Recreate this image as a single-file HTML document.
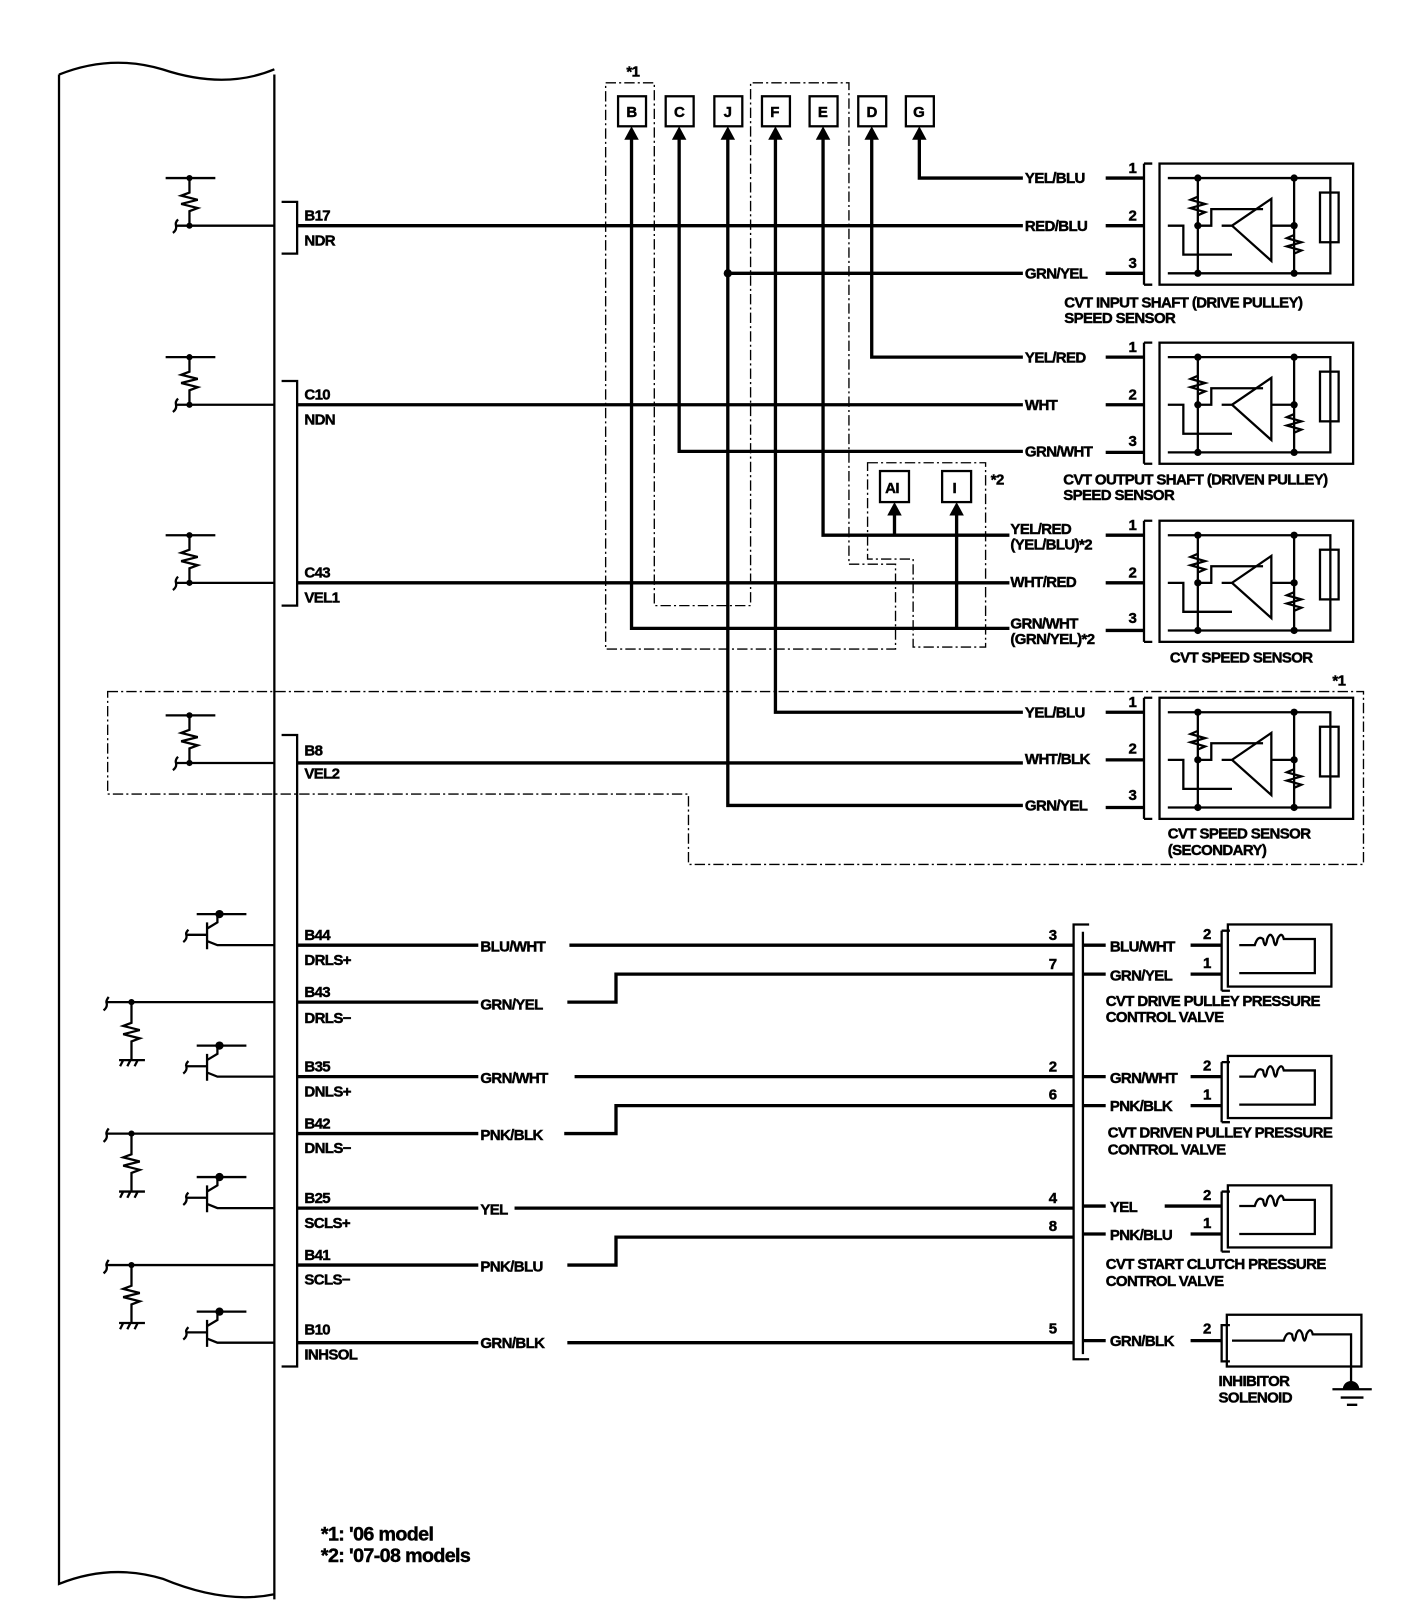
<!DOCTYPE html>
<html><head><meta charset="utf-8"><style>
html,body{margin:0;padding:0;background:#fff;}
svg{display:block;}
text{font-family:"Liberation Sans",sans-serif;font-weight:bold;font-size:14.5px;fill:#000;stroke:#000;stroke-width:0.45px;letter-spacing:-0.6px;}
.w{stroke:#000;stroke-width:3.2;fill:none;}
.t{stroke:#000;stroke-width:2.2;fill:none;}
.d{stroke:#000;stroke-width:1.3;fill:none;stroke-dasharray:10,3,2,3;}
</style></head><body>
<svg width="1408" height="1616" viewBox="0 0 1360 1561" preserveAspectRatio="none" xmlns="http://www.w3.org/2000/svg">
<defs>
<g id="ecm">
 <path class="t" d="M160 -46H208 M183 -46V-32 l-8 3 l16 4 l-16 4 l16 4 l-8 3 V0 M183 0H265"/>
 <circle cx="183" cy="-46" r="3"/><circle cx="183" cy="0" r="3"/>
 <path class="t" d="M172 -6 q-3 3 -2 6 q1 4 -3 7 M170 0H183"/>
</g>
<g id="sens">
 <path class="t" d="M1105 -14V103 M1105 -14H1113 M1105 103H1113"/>
 <rect class="t" x="1120" y="-14" width="187" height="117"/>
 <path class="t" d="M1128 0H1285V80 M1128 92H1285V80 M1157 0V92 M1250 0V92 M1128 46H1143V74H1190 M1157 46H1170V30H1220"/>
 <path class="t" d="M1157 18 l-7 3 l14 4 l-14 4 l14 4 l-7 3 M1250 55 l-7 3 l14 4 l-14 4 l14 4 l-7 3"/>
 <path class="t" d="M1228 20 L1190 46 L1228 80 Z M1190 46H1180 M1228 46H1250"/>
 <rect class="t" x="1275" y="14" width="18" height="48" fill="#fff"/>
 <circle cx="1157" cy="0" r="3.5"/><circle cx="1250" cy="0" r="3.5"/><circle cx="1157" cy="92" r="3.5"/><circle cx="1250" cy="92" r="3.5"/><circle cx="1157" cy="46" r="3.5"/><circle cx="1250" cy="46" r="3.5"/>
 <path class="w" d="M1068 0H1105 M1068 46H1105 M1068 92H1105"/>
</g>
<g id="tr">
 <path class="t" d="M200 -22V4 M180 -10H200 M200 -4 L210 0 H265 M200 -16 L210 -22 V-30 M190 -30H238"/>
 <path class="t" d="M182 -15 q-3 3 -2 5 q1 4 -3 7"/>
 <circle cx="212" cy="-30" r="4"/>
</g>
<g id="rg">
 <path class="t" d="M103 0H265 M127 0V20 l-8 3 l16 4 l-16 4 l16 4 l-8 3 V56 M115 56H140 M119 56l-3 6 M126 56l-3 6 M133 56l-3 6 M105 -5 q-3 4 -2 6 q1 4 -3 7"/>
 <circle cx="127" cy="0" r="3"/>
</g>
<g id="valve">
 <path class="t" d="M1180 -14V44 M1180 -14H1188 M1180 44H1188"/>
 <rect class="t" x="1186" y="-20" width="100" height="60"/>
 <path class="t" d="M1197 0H1212 q3 -10 8 -6 q2 12 4 0 q3 -8 6 0 q2 12 4 0 q4 -8 6 0 H1270V27H1197"/>
</g>
</defs>

<path class="t" d="M57 72 q50 -20 100 -5 q60 20 108 0 M57 72V1530 q50 -20 100 -5 q60 25 108 15 M265 72V1545"/>
<path class="t" d="M272 195H287V245H272 M272 368H287V585H272 M272 710H287V1320H272"/>

<use href="#ecm" transform="translate(0,218)"/>
<use href="#ecm" transform="translate(0,391)"/>
<use href="#ecm" transform="translate(0,563)"/>
<use href="#ecm" transform="translate(0,737)"/>

<text x="294" y="213">B17</text><text x="294" y="237">NDR</text>
<text x="294" y="386">C10</text><text x="294" y="410">NDN</text>
<text x="294" y="558">C43</text><text x="294" y="582">VEL1</text>
<text x="294" y="730">B8</text><text x="294" y="752">VEL2</text>

<path class="w" d="M287 218H988 M287 391H988 M287 563H975 M287 737H988"/>

<g class="t">
<rect x="597" y="93" width="27" height="29"/><rect x="643" y="93" width="27" height="29"/><rect x="690" y="93" width="27" height="29"/>
<rect x="736" y="93" width="27" height="29"/><rect x="782" y="93" width="27" height="29"/><rect x="829" y="93" width="27" height="29"/><rect x="875" y="93" width="27" height="29"/>
<rect x="850" y="455" width="28" height="30"/><rect x="910" y="455" width="28" height="30"/>
</g>
<text x="605" y="113">B</text><text x="651" y="113">C</text><text x="699" y="113">J</text><text x="744" y="113">F</text><text x="790" y="113">E</text><text x="837" y="113">D</text><text x="882" y="113">G</text>
<text x="855" y="476">AI</text><text x="920" y="476">I</text>
<text x="605" y="74">*1</text><text x="957" y="468">*2</text>

<path class="w" d="M888 132V172H988 M842 132V345H988 M703 132V778H988 M703 264H988 M656 132V436H988 M795 132V517H975 M749 132V688H988 M610 132V607H975 M864 494V517 M924 494V607"/>
<circle cx="703" cy="264" r="4"/>
<path d="M610 122l-7 13h14z M656 122l-7 13h14z M703 122l-7 13h14z M749 122l-7 13h14z M795 122l-7 13h14z M842 122l-7 13h14z M888 122l-7 13h14z M864 485l-7 13h14z M924 485l-7 13h14z"/>

<path class="d" d="M585 80H632V585H725V80H820V545H865V627H585Z"/>
<path class="d" d="M838 447H952V625H882V540H838Z"/>
<path class="d" d="M104 668H1317V835H665V767H104Z"/>
<text x="1287" y="662">*1</text>

<text x="990" y="177">YEL/BLU</text><text x="990" y="223">RED/BLU</text><text x="990" y="269">GRN/YEL</text>
<text x="990" y="350">YEL/RED</text><text x="990" y="396">WHT</text><text x="990" y="441">GRN/WHT</text>
<text x="976" y="516">YEL/RED</text><text x="976" y="531">(YEL/BLU)*2</text>
<text x="976" y="567">WHT/RED</text>
<text x="976" y="607">GRN/WHT</text><text x="976" y="622">(GRN/YEL)*2</text>
<text x="990" y="693">YEL/BLU</text><text x="990" y="738">WHT/BLK</text><text x="990" y="783">GRN/YEL</text>

<use href="#sens" transform="translate(0,172)"/>
<use href="#sens" transform="translate(0,345)"/>
<use href="#sens" transform="translate(0,517)"/>
<use href="#sens" transform="translate(0,688)"/>
<g>
<text x="1090" y="167">1</text><text x="1090" y="213">2</text><text x="1090" y="259">3</text>
<text x="1090" y="340">1</text><text x="1090" y="386">2</text><text x="1090" y="431">3</text>
<text x="1090" y="512">1</text><text x="1090" y="558">2</text><text x="1090" y="602">3</text>
<text x="1090" y="683">1</text><text x="1090" y="728">2</text><text x="1090" y="773">3</text>
</g>
<text x="1028" y="297">CVT INPUT SHAFT (DRIVE PULLEY)</text><text x="1028" y="312">SPEED SENSOR</text>
<text x="1027" y="468">CVT OUTPUT SHAFT (DRIVEN PULLEY)</text><text x="1027" y="483">SPEED SENSOR</text>
<text x="1130" y="640">CVT SPEED SENSOR</text>
<text x="1128" y="810">CVT SPEED SENSOR</text><text x="1128" y="826">(SECONDARY)</text>

<use href="#tr" transform="translate(0,913)"/>
<use href="#rg" transform="translate(0,968)"/>
<use href="#tr" transform="translate(0,1040)"/>
<use href="#rg" transform="translate(0,1095)"/>
<use href="#tr" transform="translate(0,1167)"/>
<use href="#rg" transform="translate(0,1222)"/>
<use href="#tr" transform="translate(0,1297)"/>

<text x="294" y="908">B44</text><text x="294" y="932">DRLS+</text>
<text x="294" y="963">B43</text><text x="294" y="988">DRLS−</text>
<text x="294" y="1035">B35</text><text x="294" y="1059">DNLS+</text>
<text x="294" y="1090">B42</text><text x="294" y="1114">DNLS−</text>
<text x="294" y="1162">B25</text><text x="294" y="1186">SCLS+</text>
<text x="294" y="1217">B41</text><text x="294" y="1241">SCLS−</text>
<text x="294" y="1289">B10</text><text x="294" y="1313">INHSOL</text>

<path class="w" d="M287 913H462 M550 913H1037 M287 968H462 M548 968H595V941H1037 M287 1040H462 M555 1040H1037 M287 1095H462 M545 1095H595V1068H1037 M287 1167H462 M497 1167H1037 M287 1222H462 M548 1222H595V1195H1037 M287 1297H462 M548 1297H1037"/>
<text x="464" y="919">BLU/WHT</text><text x="464" y="975">GRN/YEL</text><text x="464" y="1046">GRN/WHT</text><text x="464" y="1101">PNK/BLK</text><text x="464" y="1173">YEL</text><text x="464" y="1228">PNK/BLU</text><text x="464" y="1302">GRN/BLK</text>
<g>
<text x="1013" y="908">3</text><text x="1013" y="936">7</text><text x="1013" y="1035">2</text><text x="1013" y="1062">6</text><text x="1013" y="1162">4</text><text x="1013" y="1189">8</text><text x="1013" y="1288">5</text>
</g>
<path class="t" d="M1052 893H1037V1313H1052 M1046 900V1308"/>
<path class="w" d="M1046 913H1068 M1046 941H1068 M1046 1040H1068 M1046 1068H1068 M1046 1165H1068 M1046 1192H1068 M1046 1295H1068"/>
<path class="w" d="M1150 913H1180 M1150 941H1180 M1150 1040H1180 M1150 1068H1180 M1125 1165H1180 M1150 1192H1180 M1150 1295H1180"/>
<text x="1072" y="919">BLU/WHT</text><text x="1072" y="947">GRN/YEL</text>
<text x="1072" y="1046">GRN/WHT</text><text x="1072" y="1073">PNK/BLK</text>
<text x="1072" y="1171">YEL</text><text x="1072" y="1198">PNK/BLU</text>
<text x="1072" y="1300">GRN/BLK</text>
<g>
<text x="1162" y="907">2</text><text x="1162" y="935">1</text><text x="1162" y="1034">2</text><text x="1162" y="1062">1</text><text x="1162" y="1159">2</text><text x="1162" y="1186">1</text><text x="1162" y="1288">2</text>
</g>
<use href="#valve" transform="translate(0,913)"/>
<use href="#valve" transform="translate(0,1040)"/>
<use href="#valve" transform="translate(0,1165)"/>
<text x="1068" y="972">CVT DRIVE PULLEY PRESSURE</text><text x="1068" y="987">CONTROL VALVE</text>
<text x="1070" y="1099">CVT DRIVEN PULLEY PRESSURE</text><text x="1070" y="1115">CONTROL VALVE</text>
<text x="1068" y="1226">CVT START CLUTCH PRESSURE</text><text x="1068" y="1242">CONTROL VALVE</text>
<path class="t" d="M1188 1280H1180V1315H1188"/>
<rect class="t" x="1185" y="1270" width="130" height="50"/>
<path class="t" d="M1190 1295H1240 q3 -10 8 -6 q2 12 4 0 q3 -8 6 0 q2 12 4 0 q4 -8 6 0 H1305V1340"/>
<path d="M1297 1342 a8 8 0 0 1 16 0z"/>
<path class="t" d="M1287 1342H1325 M1295 1350H1317 M1301 1357H1311" stroke-width="2.5"/>
<text x="1177" y="1339">INHIBITOR</text><text x="1177" y="1355">SOLENOID</text>

<text x="310" y="1488" style="font-size:19px">*1: '06 model</text>
<text x="310" y="1509" style="font-size:19px">*2: '07-08 models</text>
</svg>
</body></html>
